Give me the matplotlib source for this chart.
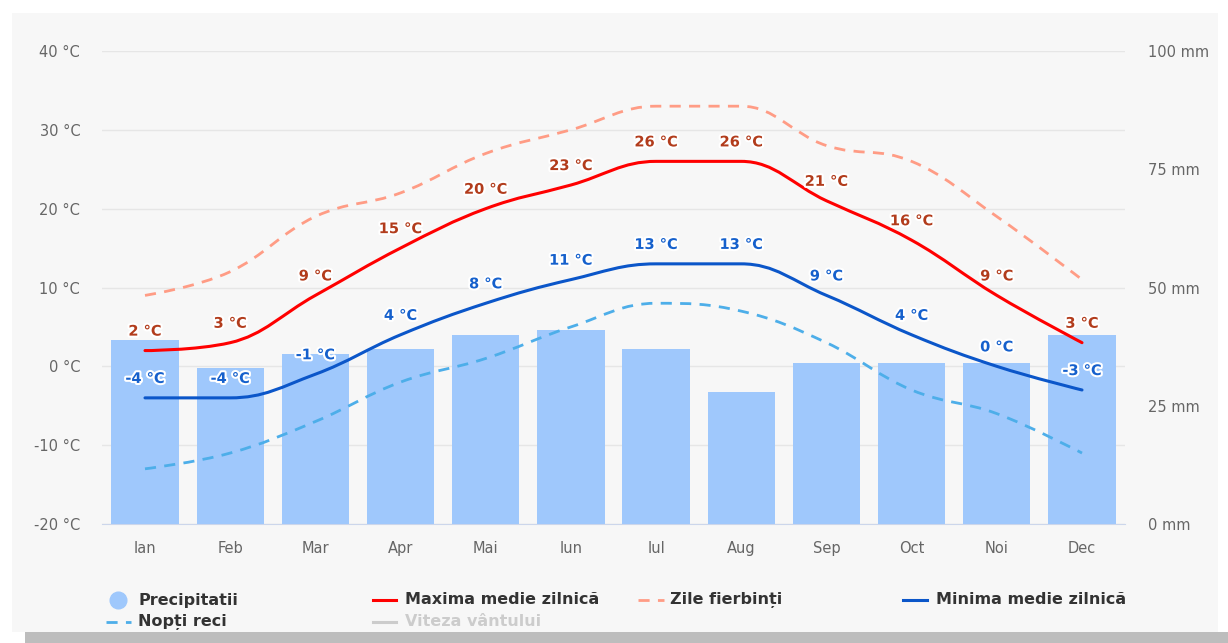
import matplotlib
matplotlib.use('Agg')
import matplotlib.pyplot as plt
import matplotlib.patheffects as pe
from matplotlib.path import Path
from matplotlib.patches import PathPatch, Rectangle
from matplotlib.lines import Line2D

plt.rcParams['font.family'] = ['DejaVu Sans']

# monthly climate data
months = ['Ian', 'Feb', 'Mar', 'Apr', 'Mai', 'Iun', 'Iul', 'Aug', 'Sep', 'Oct', 'Noi', 'Dec']
precip_mm = [39, 33, 36, 37, 40, 41, 37, 28, 34, 34, 34, 40]
max_temp = [2, 3, 9, 15, 20, 23, 26, 26, 21, 16, 9, 3]
min_temp = [-4, -4, -1, 4, 8, 11, 13, 13, 9, 4, 0, -3]
hot_days = [9, 12, 19, 22, 27, 30, 33, 33, 28, 26, 19, 11]
cold_nights = [-13, -11, -7, -2, 1, 5, 8, 7, 3, -3, -6, -11]

temp_ticks = [-20, -10, 0, 10, 20, 30, 40]
mm_ticks = [0, 25, 50, 75, 100]

W, H = 1228, 643


def spline_path(xs, ys, smoothing=1.5):
    # highcharts-like spline through the points
    n = len(xs)
    left = [None] * n
    right = [None] * n
    for i in range(1, n - 1):
        px, py = xs[i], ys[i]
        lx, ly = xs[i - 1], ys[i - 1]
        nx, ny = xs[i + 1], ys[i + 1]
        d = smoothing + 1
        lcx = (smoothing * px + lx) / d
        lcy = (smoothing * py + ly) / d
        rcx = (smoothing * px + nx) / d
        rcy = (smoothing * py + ny) / d
        corr = (rcy - lcy) * (rcx - px) / (rcx - lcx) + py - rcy
        lcy += corr
        rcy += corr
        if lcy > ly and lcy > py:
            lcy = max(ly, py)
            rcy = 2 * py - lcy
        elif lcy < ly and lcy < py:
            lcy = min(ly, py)
            rcy = 2 * py - lcy
        if rcy > ny and rcy > py:
            rcy = max(ny, py)
            lcy = 2 * py - rcy
        elif rcy < ny and rcy < py:
            rcy = min(ny, py)
            lcy = 2 * py - rcy
        left[i] = (lcx, lcy)
        right[i] = (rcx, rcy)
    verts = [(xs[0], ys[0])]
    codes = [Path.MOVETO]
    for i in range(1, n):
        c1 = right[i - 1] if right[i - 1] else (xs[i - 1], ys[i - 1])
        c2 = left[i] if left[i] else (xs[i], ys[i])
        verts += [c1, c2, (xs[i], ys[i])]
        codes += [Path.CURVE4] * 3
    return Path(verts, codes)


fig = plt.figure(figsize=(W / 100, H / 100), dpi=100)
fig.patch.set_facecolor('white')
fig.patches.append(Rectangle((12 / W, 1 - 632 / H), 1206 / W, 619 / H,
                             transform=fig.transFigure, facecolor='#f7f7f7',
                             edgecolor='none', zorder=-10))
fig.patches.append(Rectangle((25 / W, 0), 1 - 25 / W, 11 / H,
                             transform=fig.transFigure, facecolor='#bdbdbd',
                             edgecolor='none', zorder=-10))

rect = [102.4 / W, 1 - 524 / H, 1022.2 / W, 473 / H]
ax = fig.add_axes(rect)
ax.set_facecolor('none')
x = list(range(len(months)))
ax.set_xlim(-0.5, 11.5)
ax.set_ylim(-20, 40)
ax.set_yticks(temp_ticks)
ax.set_yticklabels([f'{t} °C' for t in temp_ticks])
ax.grid(axis='y', color='#e6e6e6', linewidth=1)
ax.set_xticks(x)
ax.set_xticklabels(months)
ax.tick_params(axis='both', length=0, colors='#666666', labelsize=10.5)
ax.tick_params(axis='y', pad=16)
ax.tick_params(axis='x', pad=12)
for s in ['top', 'left', 'right']:
    ax.spines[s].set_visible(False)
ax.spines['bottom'].set_color('#ccd6eb')

# precipitation bars on right axis
axp = ax.twinx()
axp.bar(x, precip_mm, width=0.79, color='#9fc8fc', zorder=2)
axp.set_ylim(0, 100)
axp.set_yticks(mm_ticks)
axp.set_yticklabels([f'{m} mm' for m in mm_ticks])
axp.tick_params(axis='y', length=0, colors='#666666', labelsize=10.5, pad=17)
for s in axp.spines.values():
    s.set_visible(False)

# temperature lines on top
axl = ax.twinx()
axl.set_ylim(-20, 40)
axl.set_xlim(-0.5, 11.5)
axl.axis('off')

axl.add_patch(PathPatch(spline_path(x, hot_days), fill=False, edgecolor='#ff9c85',
                        linewidth=2, linestyle=(0, (4, 3))))
axl.add_patch(PathPatch(spline_path(x, cold_nights), fill=False, edgecolor='#4daee9',
                        linewidth=2, linestyle=(0, (4, 3))))
axl.add_patch(PathPatch(spline_path(x, max_temp), fill=False, edgecolor='#ff0000',
                        linewidth=2.2, capstyle='round'))
axl.add_patch(PathPatch(spline_path(x, min_temp), fill=False, edgecolor='#0b56c9',
                        linewidth=2.2, capstyle='round'))

halo = [pe.withStroke(linewidth=3, foreground='white')]
for xi, v in zip(x, max_temp):
    axl.annotate(f'{v} °C', (xi, v), xytext=(0, 14), textcoords='offset points',
                 ha='center', va='center', fontsize=10.5, fontweight='bold',
                 color='#b23c1c', path_effects=halo)
for xi, v in zip(x, min_temp):
    axl.annotate(f'{v} °C', (xi, v), xytext=(0, 14), textcoords='offset points',
                 ha='center', va='center', fontsize=10.5, fontweight='bold',
                 color='#1560cc', path_effects=halo)

# legend drawn by hand
def fx(px):
    return px / W


def fy(py):
    return 1 - py / H


legend_font = dict(fontsize=11.5, fontweight='bold', va='center', ha='left')
fig.lines.append(Line2D([fx(118)], [fy(600)], marker='o', markersize=12,
                        color='#9fc8fc', linestyle='none', transform=fig.transFigure))
fig.text(fx(138), fy(600), 'Precipitatii', color='#333333', **legend_font)
fig.lines.append(Line2D([fx(373), fx(396)], [fy(600)] * 2, color='#ff0000', linewidth=2.2,
                        transform=fig.transFigure))
fig.text(fx(405), fy(600), 'Maxima medie zilnică', color='#333333', **legend_font)
fig.lines.append(Line2D([fx(638), fx(664)], [fy(600)] * 2, color='#ff9c85', linewidth=2,
                        linestyle=(0, (4, 3)), transform=fig.transFigure))
fig.text(fx(670), fy(600), 'Zile fierbinți', color='#333333', **legend_font)
fig.lines.append(Line2D([fx(903), fx(927)], [fy(600)] * 2, color='#0b56c9', linewidth=2.2,
                        transform=fig.transFigure))
fig.text(fx(936), fy(600), 'Minima medie zilnică', color='#333333', **legend_font)
fig.lines.append(Line2D([fx(106), fx(131)], [fy(622)] * 2, color='#4daee9', linewidth=2,
                        linestyle=(0, (4, 3)), transform=fig.transFigure))
fig.text(fx(138), fy(622), 'Nopți reci', color='#333333', **legend_font)
fig.lines.append(Line2D([fx(373), fx(396)], [fy(622)] * 2, color='#cccccc', linewidth=2.2,
                        transform=fig.transFigure))
fig.text(fx(405), fy(622), 'Viteza vântului', color='#cccccc', **legend_font)

fig.savefig('out.png', dpi=100)
